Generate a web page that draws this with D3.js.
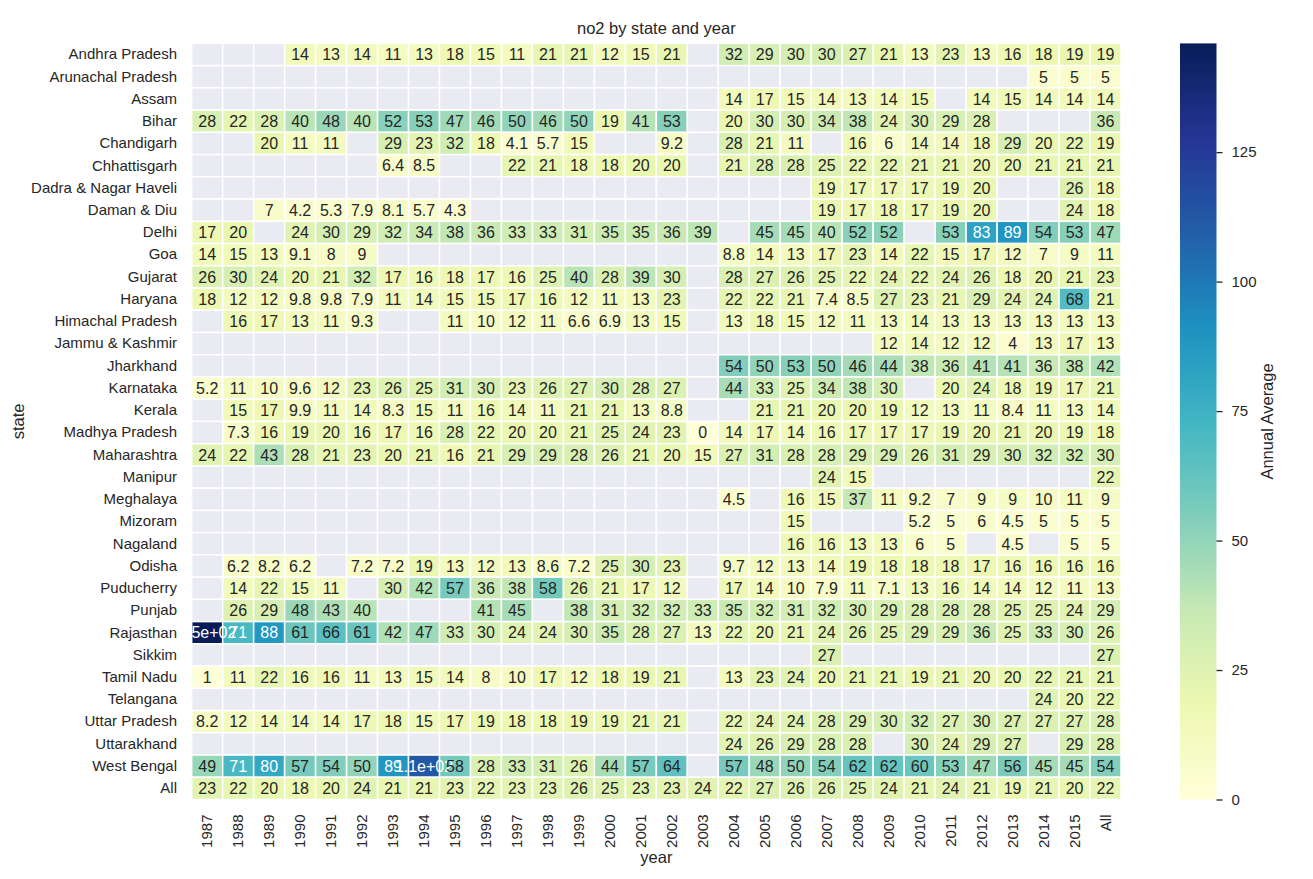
<!DOCTYPE html>
<html>
<head>
<meta charset="utf-8">
<script src="https://cdn.jsdelivr.net/npm/d3@7.9.0/dist/d3.min.js"></script>
<style>
  body { margin: 0; background: #fff; }
  svg text { font-family: "Liberation Sans", Arial, sans-serif; fill: #262626; }
</style>
</head>
<body>
<svg id="chart" width="1313" height="879"></svg>
<script>
// annual NO2 average per state (rows) and year (columns); null = no reading
const years = ['1987', '1988', '1989', '1990', '1991', '1992', '1993', '1994', '1995', '1996',
  '1997', '1998', '1999', '2000', '2001', '2002', '2003', '2004', '2005', '2006', '2007',
  '2008', '2009', '2010', '2011', '2012', '2013', '2014', '2015', 'All'];

const states = ['Andhra Pradesh', 'Arunachal Pradesh', 'Assam', 'Bihar', 'Chandigarh',
  'Chhattisgarh', 'Dadra & Nagar Haveli', 'Daman & Diu', 'Delhi', 'Goa', 'Gujarat', 'Haryana',
  'Himachal Pradesh', 'Jammu & Kashmir', 'Jharkhand', 'Karnataka', 'Kerala', 'Madhya Pradesh',
  'Maharashtra', 'Manipur', 'Meghalaya', 'Mizoram', 'Nagaland', 'Odisha', 'Puducherry', 'Punjab',
  'Rajasthan', 'Sikkim', 'Tamil Nadu', 'Telangana', 'Uttar Pradesh', 'Uttarakhand',
  'West Bengal', 'All'];

const _ = null;
const values = [
  [_, _, _, 14, 13, 14, 11, 13, 18, 15, 11, 21, 21, 12, 15, 21, _, 32, 29, 30, 30, 27, 21, 13, 23, 13, 16, 18, 19, 19],
  [_, _, _, _, _, _, _, _, _, _, _, _, _, _, _, _, _, _, _, _, _, _, _, _, _, _, _, 5, 5, 5],
  [_, _, _, _, _, _, _, _, _, _, _, _, _, _, _, _, _, 14, 17, 15, 14, 13, 14, 15, _, 14, 15, 14, 14, 14],
  [28, 22, 28, 40, 48, 40, 52, 53, 47, 46, 50, 46, 50, 19, 41, 53, _, 20, 30, 30, 34, 38, 24, 30, 29, 28, _, _, _, 36],
  [_, _, 20, 11, 11, _, 29, 23, 32, 18, 4.1, 5.7, 15, _, _, 9.2, _, 28, 21, 11, _, 16, 6, 14, 14, 18, 29, 20, 22, 19],
  [_, _, _, _, _, _, 6.4, 8.5, _, _, 22, 21, 18, 18, 20, 20, _, 21, 28, 28, 25, 22, 22, 21, 21, 20, 20, 21, 21, 21],
  [_, _, _, _, _, _, _, _, _, _, _, _, _, _, _, _, _, _, _, _, 19, 17, 17, 17, 19, 20, _, _, 26, 18],
  [_, _, 7, 4.2, 5.3, 7.9, 8.1, 5.7, 4.3, _, _, _, _, _, _, _, _, _, _, _, 19, 17, 18, 17, 19, 20, _, _, 24, 18],
  [17, 20, _, 24, 30, 29, 32, 34, 38, 36, 33, 33, 31, 35, 35, 36, 39, _, 45, 45, 40, 52, 52, _, 53, 83, 89, 54, 53, 47],
  [14, 15, 13, 9.1, 8, 9, _, _, _, _, _, _, _, _, _, _, _, 8.8, 14, 13, 17, 23, 14, 22, 15, 17, 12, 7, 9, 11],
  [26, 30, 24, 20, 21, 32, 17, 16, 18, 17, 16, 25, 40, 28, 39, 30, _, 28, 27, 26, 25, 22, 24, 22, 24, 26, 18, 20, 21, 23],
  [18, 12, 12, 9.8, 9.8, 7.9, 11, 14, 15, 15, 17, 16, 12, 11, 13, 23, _, 22, 22, 21, 7.4, 8.5, 27, 23, 21, 29, 24, 24, 68, 21],
  [_, 16, 17, 13, 11, 9.3, _, _, 11, 10, 12, 11, 6.6, 6.9, 13, 15, _, 13, 18, 15, 12, 11, 13, 14, 13, 13, 13, 13, 13, 13],
  [_, _, _, _, _, _, _, _, _, _, _, _, _, _, _, _, _, _, _, _, _, _, 12, 14, 12, 12, 4, 13, 17, 13],
  [_, _, _, _, _, _, _, _, _, _, _, _, _, _, _, _, _, 54, 50, 53, 50, 46, 44, 38, 36, 41, 41, 36, 38, 42],
  [5.2, 11, 10, 9.6, 12, 23, 26, 25, 31, 30, 23, 26, 27, 30, 28, 27, _, 44, 33, 25, 34, 38, 30, _, 20, 24, 18, 19, 17, 21],
  [_, 15, 17, 9.9, 11, 14, 8.3, 15, 11, 16, 14, 11, 21, 21, 13, 8.8, _, _, 21, 21, 20, 20, 19, 12, 13, 11, 8.4, 11, 13, 14],
  [_, 7.3, 16, 19, 20, 16, 17, 16, 28, 22, 20, 20, 21, 25, 24, 23, 0, 14, 17, 14, 16, 17, 17, 17, 19, 20, 21, 20, 19, 18],
  [24, 22, 43, 28, 21, 23, 20, 21, 16, 21, 29, 29, 28, 26, 21, 20, 15, 27, 31, 28, 28, 29, 29, 26, 31, 29, 30, 32, 32, 30],
  [_, _, _, _, _, _, _, _, _, _, _, _, _, _, _, _, _, _, _, _, 24, 15, _, _, _, _, _, _, _, 22],
  [_, _, _, _, _, _, _, _, _, _, _, _, _, _, _, _, _, 4.5, _, 16, 15, 37, 11, 9.2, 7, 9, 9, 10, 11, 9],
  [_, _, _, _, _, _, _, _, _, _, _, _, _, _, _, _, _, _, _, 15, _, _, _, 5.2, 5, 6, 4.5, 5, 5, 5],
  [_, _, _, _, _, _, _, _, _, _, _, _, _, _, _, _, _, _, _, 16, 16, 13, 13, 6, 5, _, 4.5, _, 5, 5],
  [_, 6.2, 8.2, 6.2, _, 7.2, 7.2, 19, 13, 12, 13, 8.6, 7.2, 25, 30, 23, _, 9.7, 12, 13, 14, 19, 18, 18, 18, 17, 16, 16, 16, 16],
  [_, 14, 22, 15, 11, _, 30, 42, 57, 36, 38, 58, 26, 21, 17, 12, _, 17, 14, 10, 7.9, 11, 7.1, 13, 16, 14, 14, 12, 11, 13],
  [_, 26, 29, 48, 43, 40, _, _, _, 41, 45, _, 38, 31, 32, 32, 33, 35, 32, 31, 32, 30, 29, 28, 28, 28, 25, 25, 24, 29],
  [146, 71, 88, 61, 66, 61, 42, 47, 33, 30, 24, 24, 30, 35, 28, 27, 13, 22, 20, 21, 24, 26, 25, 29, 29, 36, 25, 33, 30, 26],
  [_, _, _, _, _, _, _, _, _, _, _, _, _, _, _, _, _, _, _, _, 27, _, _, _, _, _, _, _, _, 27],
  [1, 11, 22, 16, 16, 11, 13, 15, 14, 8, 10, 17, 12, 18, 19, 21, _, 13, 23, 24, 20, 21, 21, 19, 21, 20, 20, 22, 21, 21],
  [_, _, _, _, _, _, _, _, _, _, _, _, _, _, _, _, _, _, _, _, _, _, _, _, _, _, _, 24, 20, 22],
  [8.2, 12, 14, 14, 14, 17, 18, 15, 17, 19, 18, 18, 19, 19, 21, 21, _, 22, 24, 24, 28, 29, 30, 32, 27, 30, 27, 27, 27, 28],
  [_, _, _, _, _, _, _, _, _, _, _, _, _, _, _, _, _, 24, 26, 29, 28, 28, _, 30, 24, 29, 27, _, 29, 28],
  [49, 71, 80, 57, 54, 50, 89, 112, 58, 28, 33, 31, 26, 44, 57, 64, _, 57, 48, 50, 54, 62, 62, 60, 53, 47, 56, 45, 45, 54],
  [23, 22, 20, 18, 20, 24, 21, 21, 23, 22, 23, 23, 26, 25, 23, 23, 24, 22, 27, 26, 26, 25, 24, 21, 24, 21, 19, 21, 20, 22],
];

const colorbarTicks = [0, 25, 50, 75, 100, 125];
// matplotlib YlGnBu anchor colours
const ylGnBu = ['#ffffd9', '#edf8b1', '#c7e9b4', '#7fcdbb', '#41b6c4', '#1d91c0', '#225ea8', '#253494', '#081d58'];

const svg = d3.select('#chart');
const plotLeft = 191.7, plotRight = 1121, plotTop = 43.4, plotBottom = 799.5;

const x = d3.scaleBand().domain(years).range([plotLeft, plotRight]);
const y = d3.scaleBand().domain(states).range([plotTop, plotBottom]);

const vmax = d3.max(values.flat());
const color = d3.scaleLinear()
  .domain(ylGnBu.map((c, i) => (i / (ylGnBu.length - 1)) * vmax))
  .range(ylGnBu)
  .interpolate(d3.interpolateRgb)
  .clamp(true);

// seaborn picks white text on dark cells
function lum(c) {
  const rgb = d3.rgb(c);
  const lin = (v) => {
    v /= 255;
    return v <= 0.03928 ? v / 12.92 : Math.pow((v + 0.055) / 1.055, 2.4);
  };
  return 0.2126 * lin(rgb.r) + 0.7152 * lin(rgb.g) + 0.0722 * lin(rgb.b);
}

// python '.2g' style
const fmt2g = (v) => d3.format('.2~g')(v).replace(/e([+-])(\d)$/, 'e$10$2');

const cells = [];
states.forEach((s, i) => {
  years.forEach((yr, j) => {
    cells.push({ state: s, year: yr, value: values[i][j] });
  });
});

svg.append('g')
  .selectAll('rect')
  .data(cells)
  .join('rect')
  .attr('x', (d) => x(d.year))
  .attr('y', (d) => y(d.state))
  .attr('width', x.bandwidth())
  .attr('height', y.bandwidth())
  .attr('fill', (d) => (d.value === null ? '#eaeaf2' : color(d.value)))
  .attr('stroke', '#fff')
  .attr('stroke-width', 1.5);

svg.append('g')
  .selectAll('text')
  .data(cells.filter((d) => d.value !== null))
  .join('text')
  .attr('x', (d) => x(d.year) + x.bandwidth() / 2)
  .attr('y', (d) => y(d.state) + y.bandwidth() / 2)
  .attr('dy', '0.36em')
  .attr('text-anchor', 'middle')
  .style('font-size', '16px')
  .style('fill', (d) => (lum(color(d.value)) > 0.408 ? '#262626' : '#ffffff'))
  .text((d) => fmt2g(d.value));

// y axis
const yAxis = svg.append('g')
  .attr('transform', `translate(${plotLeft},0)`)
  .call(d3.axisLeft(y).tickSize(0).tickPadding(14.7));
yAxis.select('.domain').remove();
yAxis.selectAll('text')
  .style('font-size', '15px')
  .style('font-family', '"Liberation Sans", Arial, sans-serif')
  .attr('fill', '#262626');

// x axis, labels turned upright
const xAxis = svg.append('g')
  .attr('transform', `translate(0,${plotBottom})`)
  .call(d3.axisBottom(x).tickSize(0));
xAxis.select('.domain').remove();
xAxis.selectAll('text')
  .attr('transform', 'rotate(-90)')
  .attr('x', -15)
  .attr('y', 0)
  .attr('dy', '0.35em')
  .attr('text-anchor', 'end')
  .style('font-size', '15px')
  .style('font-family', '"Liberation Sans", Arial, sans-serif')
  .attr('fill', '#262626');

svg.append('text')
  .attr('x', (plotLeft + plotRight) / 2)
  .attr('y', 34)
  .attr('text-anchor', 'middle')
  .style('font-size', '16.5px')
  .text('no2 by state and year');

svg.append('text')
  .attr('x', (plotLeft + plotRight) / 2)
  .attr('y', 863)
  .attr('text-anchor', 'middle')
  .style('font-size', '16.5px')
  .text('year');

svg.append('text')
  .attr('transform', `translate(24,${(plotTop + plotBottom) / 2}) rotate(-90)`)
  .attr('text-anchor', 'middle')
  .style('font-size', '16.5px')
  .text('state');

// colorbar
const cbX = 1180, cbW = 36.5;
const cScale = d3.scaleLinear().domain([0, vmax]).range([plotBottom, plotTop]);

const grad = svg.append('defs').append('linearGradient')
  .attr('id', 'cbar')
  .attr('x1', 0).attr('y1', 1).attr('x2', 0).attr('y2', 0);
grad.selectAll('stop')
  .data(ylGnBu)
  .join('stop')
  .attr('offset', (d, i) => i / (ylGnBu.length - 1))
  .attr('stop-color', (d) => d);

svg.append('rect')
  .attr('x', cbX)
  .attr('y', plotTop)
  .attr('width', cbW)
  .attr('height', plotBottom - plotTop)
  .attr('fill', 'url(#cbar)');

const cAxis = svg.append('g')
  .attr('transform', `translate(${cbX + cbW},0)`)
  .call(d3.axisRight(cScale).tickValues(colorbarTicks).tickSize(6).tickPadding(9));
cAxis.select('.domain').remove();
cAxis.selectAll('line').attr('stroke', '#262626').attr('stroke-width', 1.3);
cAxis.selectAll('text')
  .style('font-size', '15px')
  .style('font-family', '"Liberation Sans", Arial, sans-serif')
  .attr('fill', '#262626');

svg.append('text')
  .attr('transform', `translate(1273,${(plotTop + plotBottom) / 2}) rotate(-90)`)
  .attr('text-anchor', 'middle')
  .style('font-size', '16.5px')
  .text('Annual Average');
</script>
</body>
</html>
